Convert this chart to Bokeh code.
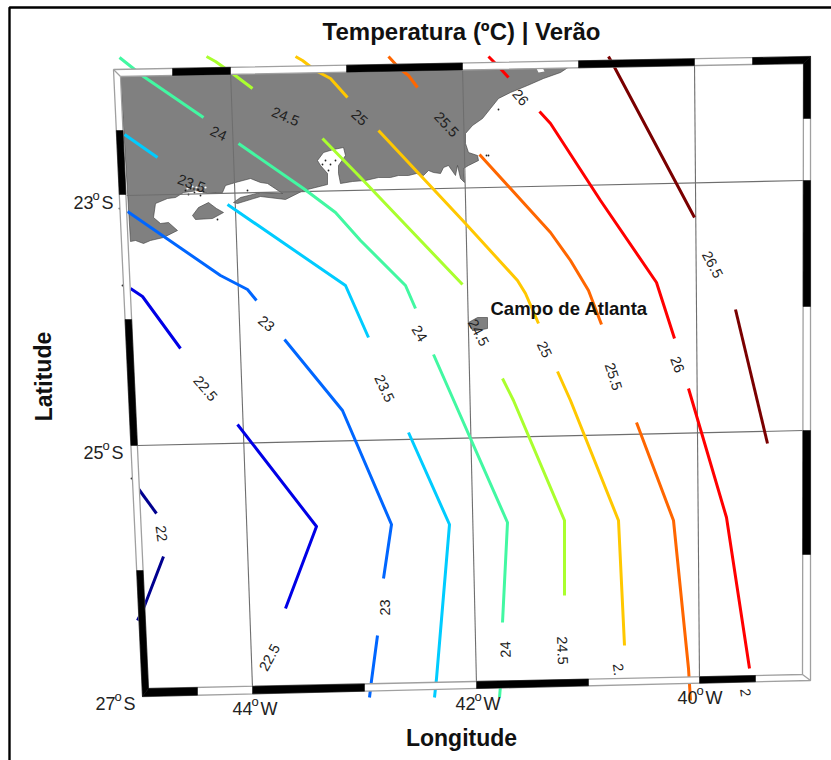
from bokeh.plotting import figure
from bokeh.models import Range1d, ColumnDataSource
from bokeh.core.properties import value
from bokeh.embed import file_html
from bokeh.resources import INLINE

FONT = "Liberation Sans"

# ---- contour levels and colours -------------------------------------------
LEVELS = [22, 22.5, 23, 23.5, 24, 24.5, 25, 25.5, 26, 26.5]
COLORS = ["#00008f", "#0000e6", "#0066ff", "#00ccff", "#42f8a2",
          "#aaff2e", "#ffc800", "#ff6600", "#ff0000", "#7a0000"]

# ---- contour pieces (map position in page pixels) ----
C22 = [[(137, 487), (156, 513)], [(163, 556), (143, 608), (137, 620)]]
C22_5 = [[(130, 288), (142, 296), (180, 348)], [(237, 424), (316, 526), (285, 608)]]
C23 = [[(127, 211), (220, 275), (247, 289), (256, 300)],
       [(284, 339), (342, 410), (391, 524), (383, 578)],
       [(377, 635), (371, 680), (369, 697)]]
C23_5 = [[(124, 134), (157, 157)],
         [(227, 204), (345, 285), (368, 337)],
         [(408, 432), (449, 524), (436, 678), (434, 697)]]
C24 = [[(119, 57), (143, 76), (203, 117)],
       [(238, 143), (303, 188), (335, 212), (360, 240), (405, 285), (415, 308)],
       [(433, 354), (507, 522), (502, 622)],
       [(500, 685), (499, 697)]]
C24_5 = [[(206, 56), (215, 61), (232, 73), (252, 88)],
         [(322, 138), (360, 177), (462, 284)],
         [(502, 378), (513, 400), (564, 520), (564, 595)]]
C25 = [[(295, 56), (302, 60), (315, 70), (330, 78), (347, 97)],
       [(378, 130), (465, 223), (517, 280), (525, 293), (538, 323)],
       [(557, 371), (570, 400), (618, 520), (624, 645)]]
C25_5 = [[(388, 56), (399, 68), (408, 75), (417, 87)],
         [(479, 154), (550, 232), (570, 260), (582, 280), (588, 290), (601, 324)],
         [(636, 422), (673, 520), (688, 668), (690, 700)]]
C26 = [[(488, 56), (498, 66), (508, 77)],
       [(539, 111), (550, 123), (600, 200), (656, 282), (674, 338)],
       [(688, 388), (726, 517), (749, 668)]]
C26_5 = [[(608, 56), (612, 63), (694, 217)], [(735, 309), (767, 443)]]
CONTOURS = [C22, C22_5, C23, C23_5, C24, C24_5, C25, C25_5, C26, C26_5]

# ---- land ---------------------------------------------------------------
LAND = [(120, 76), (346, 71), (462, 66), (572, 64), (560, 72), (543, 78), (527, 85),
        (510, 92), (498, 98), (490, 108), (482, 118), (472, 125), (465, 133), (465, 143),
        (468, 152), (477, 155), (478, 160), (468, 165), (463, 168), (464, 182),
        (460, 178), (457, 165), (455, 175), (448, 165), (443, 167), (440, 173), (433, 172),
        (428, 170), (423, 175), (416, 173), (408, 175), (398, 175), (390, 177), (378, 177),
        (365, 180), (352, 181), (340, 183), (338, 173), (338, 165), (345, 155), (343, 147),
        (333, 149), (323, 152), (317, 160), (320, 165), (327, 173), (327, 184), (303, 190),
        (285, 199), (260, 196), (237, 203), (233, 202), (240, 197), (260, 192), (282, 193),
        (267, 183), (260, 182), (250, 178), (235, 182), (225, 185), (222, 192), (207, 193),
        (198, 190), (183, 192), (175, 197), (167, 198), (155, 203), (153, 217), (160, 223),
        (168, 222), (177, 230), (163, 237), (150, 240), (143, 243), (135, 240), (130, 241),
        (120, 76)]
ISLAND = [(192, 215), (198, 207), (208, 202), (216, 208), (223, 212), (212, 218), (195, 219)]
ATLANTA = [(468, 322), (477, 317), (487, 317), (487, 328), (477, 330), (472, 330)]
WHITE_SPOT = [(535, 66), (541, 65), (544, 71), (538, 72)]
SPECK_DARK_X = [185, 190, 194, 198, 203, 188, 200, 217, 498, 486, 488, 131, 122, 119, 247,
                325, 330, 335, 328, 322]
SPECK_DARK_Y = [190, 188, 192, 189, 191, 194, 195, 219, 109, 155, 155, 478, 285, 208, 190,
                160, 164, 160, 170, 164]
SPECK_WHITE_X = [187, 192, 196, 200, 205, 195]
SPECK_WHITE_Y = [188, 186, 187, 185, 187, 191]

# ---- graticule -------------------------------------------------------------
LAT_LINES = [[(126, 195), (803, 180)], [(137, 445), (803, 430)]]
LON_LINES = [[(230, 70), (252, 687)], [(462, 66), (476, 684)], [(694, 62), (699, 680)]]

# ---- frame: corners and where the band changes colour ------------------------
OUT_TL, OUT_TR, OUT_BR, OUT_BL = (113, 69), (810, 56), (810, 680), (142, 696)
IN_TL, IN_TR, IN_BR, IN_BL = (120, 76), (803, 63), (802, 674), (148, 688)
TOP_BLACK = [(172, 230), (346, 462), (578, 694), (752, 810)]
BOTTOM_BLACK = [(142, 197), (252, 364), (476, 588), (699, 755)]
LEFT_BLACK = [(130, 194), (319, 445), (570, 696)]
RIGHT_BLACK = [(56, 118), (180, 306), (430, 554)]

# ---- tick labels -----------------------------------------------------------
TICK_TEXT = ["23", "25", "27", "44", "42", "40"]
TICK_SUFFIX = ["S", "S", "S", "W", "W", "W"]
TICK_X = [73, 83, 95, 232, 455, 677]
TICK_Y = [202, 452, 703, 708, 703, 697]

# ---- contour labels: text, x, y, rotation in degrees -------------------------
LABEL_TEXT = ["24", "24.5", "25", "25.5", "26", "23.5", "26.5", "23", "23.5", "24", "24.5",
              "25", "25.5", "26", "22.5", "22", "23", "22.5", "24", "24.5", "2.", "2"]
LABEL_X = [218, 285, 359, 446, 520, 191, 712, 266, 384, 419, 478,
           544, 613, 677, 205, 161, 384, 269, 505, 562, 618, 745]
LABEL_Y = [133, 116, 117, 124, 97, 183, 264, 323, 388, 333, 332,
           349, 376, 364, 388, 533, 607, 657, 649, 650, 669, 692]
LABEL_ANGLE = [-25, -22, -42, -47, -50, -20, -62, -40, -65, -58, -62,
               -65, -72, -70, -50, -82, 90, 62, 92, -88, -82, -82]


def lerp(a, b, t):
    return a + (b - a) * t


def on_h(p, q, x):
    x = max(min(p[0], q[0]), min(max(p[0], q[0]), x))
    return (x, lerp(p[1], q[1], (x - p[0]) / (q[0] - p[0])))


def on_v(p, q, y):
    y = max(min(p[1], q[1]), min(max(p[1], q[1]), y))
    return (lerp(p[0], q[0], (y - p[1]) / (q[1] - p[1])), y)


p = figure(width=831, height=760, x_range=Range1d(0, 831), y_range=Range1d(760, 0),
           output_backend="svg", toolbar_location=None, min_border=0,
           outline_line_color=None, background_fill_color="white")
p.xaxis.visible = False
p.yaxis.visible = False
p.grid.visible = False

# outer picture frame
p.multi_line([[9, 9, 831]], [[760, 7, 7]], line_color="black", line_width=2.4)

# land
land_polys = [LAND, ISLAND, ATLANTA]
p.patches([[a for a, _ in s] for s in land_polys], [[b for _, b in s] for s in land_polys],
          fill_color="#808080", line_color="#3a3a3a", line_width=0.6)
p.patch([a for a, _ in WHITE_SPOT], [b for _, b in WHITE_SPOT], fill_color="white", line_color=None)
p.scatter(SPECK_WHITE_X, SPECK_WHITE_Y, size=2.2, color="white", line_color=None)
p.scatter(SPECK_DARK_X, SPECK_DARK_Y, size=1.8, color="#222222", line_color=None)

# graticule
grid = LAT_LINES + LON_LINES
p.multi_line([[a for a, _ in s] for s in grid], [[b for _, b in s] for s in grid],
             line_color="#6e6e6e", line_width=1.1)

# contours
for pieces, col, lev in zip(CONTOURS, COLORS, LEVELS):
    p.multi_line([[a for a, _ in s] for s in pieces], [[b for _, b in s] for s in pieces],
                 line_color=col, line_width=3, line_cap="butt", line_join="round", name=str(lev))

# contour labels
src = ColumnDataSource(dict(x=LABEL_X, y=LABEL_Y, text=LABEL_TEXT,
                            a=[v * 3.14159265 / 180 for v in LABEL_ANGLE]))
p.text("x", "y", text="text", angle="a", source=src, text_font=value(FONT),
       text_font_size="14.5px", text_color="#222222", text_align="center", text_baseline="middle")

# frame band (white base, then black pieces, both above the contours)
band_x = [OUT_TL[0], OUT_TR[0], OUT_BR[0], OUT_BL[0], OUT_TL[0], IN_TL[0], IN_BL[0], IN_BR[0], IN_TR[0], IN_TL[0]]
band_y = [OUT_TL[1], OUT_TR[1], OUT_BR[1], OUT_BL[1], OUT_TL[1], IN_TL[1], IN_BL[1], IN_BR[1], IN_TR[1], IN_TL[1]]
p.patch(band_x, band_y, fill_color="white", line_color=None)
quads = []
for a, b in TOP_BLACK:
    quads.append([on_h(OUT_TL, OUT_TR, a), on_h(OUT_TL, OUT_TR, b), on_h(IN_TL, IN_TR, b), on_h(IN_TL, IN_TR, a)])
for a, b in BOTTOM_BLACK:
    quads.append([on_h(OUT_BL, OUT_BR, a), on_h(OUT_BL, OUT_BR, b), on_h(IN_BL, IN_BR, b), on_h(IN_BL, IN_BR, a)])
for a, b in LEFT_BLACK:
    quads.append([on_v(OUT_TL, OUT_BL, a), on_v(OUT_TL, OUT_BL, b), on_v(IN_TL, IN_BL, b), on_v(IN_TL, IN_BL, a)])
for a, b in RIGHT_BLACK:
    quads.append([on_v(OUT_TR, OUT_BR, a), on_v(OUT_TR, OUT_BR, b), on_v(IN_TR, IN_BR, b), on_v(IN_TR, IN_BR, a)])
p.multi_line([[OUT_TL[0], OUT_TR[0], OUT_BR[0], OUT_BL[0], OUT_TL[0]],
              [IN_TL[0], IN_TR[0], IN_BR[0], IN_BL[0], IN_TL[0]],
              [OUT_TL[0], IN_TL[0]], [OUT_BR[0], IN_BR[0]]],
             [[OUT_TL[1], OUT_TR[1], OUT_BR[1], OUT_BL[1], OUT_TL[1]],
              [IN_TL[1], IN_TR[1], IN_BR[1], IN_BL[1], IN_TL[1]],
              [OUT_TL[1], IN_TL[1]], [OUT_BR[1], IN_BR[1]]],
             line_color="#a0a0a0", line_width=1.3)
p.patches([[a for a, _ in q] for q in quads], [[b for _, b in q] for q in quads],
          fill_color="black", line_color="black", line_width=0.5)

# tick labels: number, raised small "o", letter
p.text(TICK_X, TICK_Y, text=TICK_TEXT, text_font=value(FONT), text_font_size="18px",
       text_color="#222222", text_baseline="alphabetic")
p.text([v + 19 for v in TICK_X], [v - 7 for v in TICK_Y], text=["o"] * 6, text_font=value(FONT),
       text_font_size="13px", text_color="#222222", text_baseline="alphabetic")
p.text([v + 28 for v in TICK_X], TICK_Y, text=TICK_SUFFIX, text_font=value(FONT), text_font_size="18px",
       text_color="#222222", text_baseline="alphabetic")

# titles
p.text([461], [31], text=["Temperatura (ºC) | Verão"], text_font=value(FONT), text_font_style="bold",
       text_font_size="24px", text_color="#111111", text_align="center", text_baseline="alphabetic")
p.text([461], [737], text=["Longitude"], text_font=value(FONT), text_font_style="bold",
       text_font_size="23px", text_color="#111111", text_align="center", text_baseline="alphabetic")
p.text([43], [376], text=["Latitude"], angle=[1.5708], text_font=value(FONT), text_font_style="bold",
       text_font_size="23px", text_color="#111111", text_align="center", text_baseline="alphabetic")
p.text([490], [308], text=["Campo de Atlanta"], text_font=value(FONT), text_font_style="bold",
       text_font_size="18.5px", text_color="#111111", text_baseline="alphabetic")

open("out.html", "w").write(file_html(p, INLINE))
